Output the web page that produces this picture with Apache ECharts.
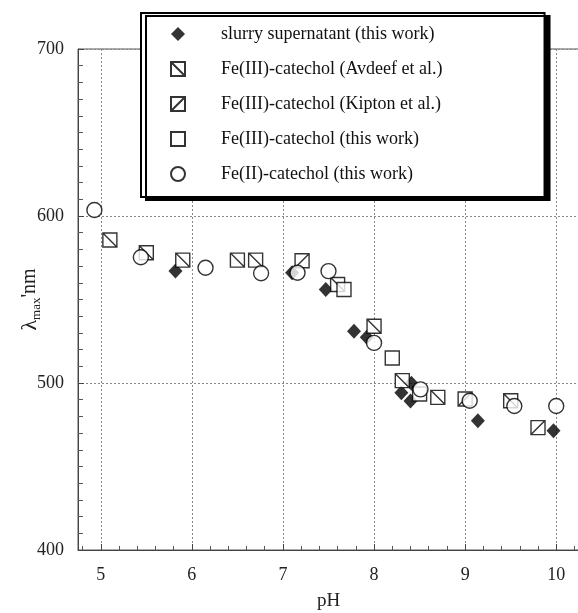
<!DOCTYPE html>
<html>
<head>
<meta charset="utf-8">
<script src="https://cdn.jsdelivr.net/npm/echarts@6/dist/echarts.min.js"></script>
<style>html,body{margin:0;padding:0;background:#fff}#c{width:578px;height:613px}</style>
</head>
<body>
<div id="c"></div>
<script>
// Series names
const seriesNames = [
  'slurry supernatant (this work)',
  'Fe(III)-catechol (Avdeef et al.)',
  'Fe(III)-catechol (Kipton et al.)',
  'Fe(III)-catechol (this work)',
  'Fe(II)-catechol (this work)'
];
// [pH, lambda_max nm]
const slurry = [[5.82,567],[7.10,566],[7.47,556],[7.78,531],[7.92,527.4],[8.30,494.2],[8.41,499.8],[8.40,489.2],[9.14,477.4],[9.97,471.4]];
const avdeef = [[5.10,585.6],[5.50,578],[5.90,573.6],[6.50,573.6],[6.70,573.6],[7.60,559],[8.00,534],[8.31,501.4],[8.70,491.4],[9.50,489.4]];
const kipton = [[7.21,573.2],[9.00,490.4],[9.80,473.3]];
const fe3this = [[7.67,556],[8.20,515],[8.50,493.4]];
const fe2this = [[4.93,603.6],[5.44,575.3],[6.15,569],[6.76,565.7],[7.16,566],[7.50,567],[8.00,524],[8.51,496.2],[9.05,489.4],[9.54,486.2],[10.00,486.2]];
const xMin = 4.75, xMax = 10.25;
const yMin = 400, yMax = 700, yInterval = 100;

const FONT = '"Liberation Serif", "DejaVu Serif", serif';
const chart = echarts.init(document.getElementById('c'), null, {renderer:'canvas'});
const markerStroke = {color:'#fff', borderColor:'#000', borderWidth:1.4};
const SQ_BACK = 'path://M0,0H10V10H0Z M0,0L10,10';
const SQ_FWD = 'path://M0,0H10V10H0Z M0,10L10,0';

chart.setOption({
  animation:false,
  backgroundColor:'#fff',
  grid:{left:78, top:49, width:501, height:501, outerBoundsMode:'none', containLabel:false,
        show:true, borderColor:'#555', borderWidth:1, backgroundColor:'transparent'},
  legend:{
    orient:'vertical', left:141, top:13,
    padding:[12,102,14,29],
    itemWidth:14, itemHeight:14, itemGap:17,
    backgroundColor:'#fff', borderColor:'#000', borderWidth:2,
    shadowColor:'#000', shadowBlur:0, shadowOffsetX:5, shadowOffsetY:3,
    textStyle:{fontFamily:FONT, fontSize:18, color:'#111', padding:[0,0,0,31]},
    data:seriesNames
  },
  xAxis:{
    type:'value', min:xMin, max:xMax,
    axisLine:{show:true, lineStyle:{color:'#444', width:1}},
    axisTick:{show:true, inside:true, length:6, lineStyle:{color:'#444'}},
    minorTick:{show:true, splitNumber:5, length:4, lineStyle:{color:'#555'}},
    splitLine:{show:true, lineStyle:{color:'#888', type:[2,2], width:1}},
    axisLabel:{showMinLabel:false, showMaxLabel:false, fontFamily:FONT, fontSize:18, color:'#222', margin:16},
    name:'pH', nameLocation:'middle', nameGap:42, nameMoveOverlap:false,
    nameTextStyle:{fontFamily:FONT, fontSize:19, color:'#222'}
  },
  yAxis:{
    type:'value', min:yMin, max:yMax, interval:yInterval,
    axisLine:{show:true, lineStyle:{color:'#444', width:1}},
    axisTick:{show:true, inside:true, length:6, lineStyle:{color:'#444'}},
    minorTick:{show:true, splitNumber:10, length:5, lineStyle:{color:'#555'}},
    splitLine:{show:true, lineStyle:{color:'#888', type:[2,2], width:1}},
    axisLabel:{fontFamily:FONT, fontSize:18, color:'#222', margin:14},
    name:'{l|λ}{s|max}{n|\'nm}', nameLocation:'middle', nameGap:35, nameMoveOverlap:false,
    nameTextStyle:{
      fontFamily:FONT, color:'#222',
      rich:{
        l:{fontFamily:FONT, fontSize:22, color:'#222', lineHeight:26, verticalAlign:'middle'},
        s:{fontFamily:FONT, fontSize:13, color:'#222', lineHeight:26, verticalAlign:'bottom', padding:[8,0,0,0]},
        n:{fontFamily:FONT, fontSize:20, color:'#222', lineHeight:26, verticalAlign:'middle'}
      }
    }
  },
  series:[
    {name:seriesNames[0], type:'scatter', data:slurry, symbol:'diamond', symbolSize:[14,15], itemStyle:{color:'#000', borderColor:'#000', borderWidth:0}, z:2},
    {name:seriesNames[1], type:'scatter', data:avdeef, symbol:SQ_BACK, symbolSize:14, itemStyle:markerStroke, z:3},
    {name:seriesNames[2], type:'scatter', data:kipton, symbol:SQ_FWD, symbolSize:14, itemStyle:markerStroke, z:3},
    {name:seriesNames[3], type:'scatter', data:fe3this, symbol:'rect', symbolSize:14, itemStyle:markerStroke, z:3},
    {name:seriesNames[4], type:'scatter', data:fe2this, symbol:'circle', symbolSize:15, itemStyle:markerStroke, z:4}
  ]
});
</script>
</body>
</html>
